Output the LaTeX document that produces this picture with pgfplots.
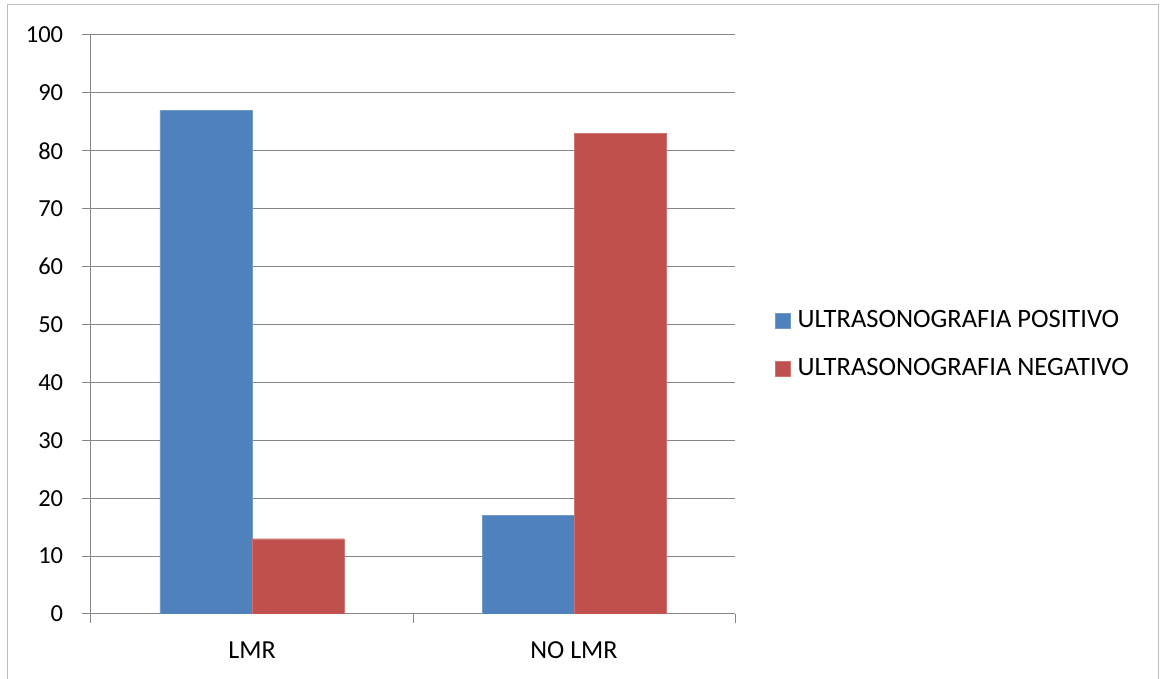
\documentclass[border=0pt]{standalone}
\usepackage{pgfplots}
\pgfplotsset{compat=1.18}
\usepackage{fontspec}
\setmainfont{Carlito}
\definecolor{cblue}{HTML}{4F81BD}
\definecolor{cred}{HTML}{C0504D}
\definecolor{gridc}{HTML}{868686}
\definecolor{borderc}{HTML}{BFBFBF}
\begin{document}
\fontsize{26}{30}\selectfont
\begin{tikzpicture}
\useasboundingbox (0,0) rectangle (1168pt,679pt);
\draw[borderc, line width=1pt] (7pt,-5pt) -- (7pt,674pt) -- (1158pt,674pt) -- (1158pt,-5pt);
\begin{axis}[
  at={(91pt,65pt)}, anchor=south west,
  scale only axis, width=644pt, height=579pt,
  ybar=0pt, bar width=92pt,
  xmin=-0.5, xmax=1.5, ymin=0, ymax=100,
  ytick={0,10,...,100},
  xtick={-0.5,0.5,1.5}, xticklabels={},
  extra x ticks={0,1}, extra x tick labels={LMR,NO LMR},
  extra x tick style={major tick length=0pt, xticklabel style={yshift=-19pt}},
  axis lines*=left,
  axis line style={gridc, line width=1pt},
  tick style={gridc, line width=1pt},
  major tick length=9pt, tick align=outside,
  ymajorgrids, grid style={gridc, line width=1pt},
  xticklabel style={font=\fontsize{26}{30}\selectfont, black},
  yticklabel style={font=\fontsize{24.5}{30}\selectfont, black, xshift=-10pt},
  /pgf/number format/assume math mode=true,
  legend style={at={(1.062,0.4646)}, anchor=west, draw=none, fill=none, inner sep=0pt, row sep=23pt, font=\fontsize{26.5}{30}\selectfont,
    nodes={inner xsep=7pt}},
  legend cell align=left,
  legend image code/.code={\fill[#1] (0pt,-7.5pt) rectangle (15pt,7.5pt);},
]
\addplot[fill=cblue, draw=cblue!80!white] coordinates {(0,87) (1,17)};
\addlegendentry{ULTRASONOGRAFIA POSITIVO}
\addplot[fill=cred, draw=cred!80!white] coordinates {(0,13) (1,83)};
\addlegendentry{ULTRASONOGRAFIA NEGATIVO}
\end{axis}
\end{tikzpicture}
\end{document}
